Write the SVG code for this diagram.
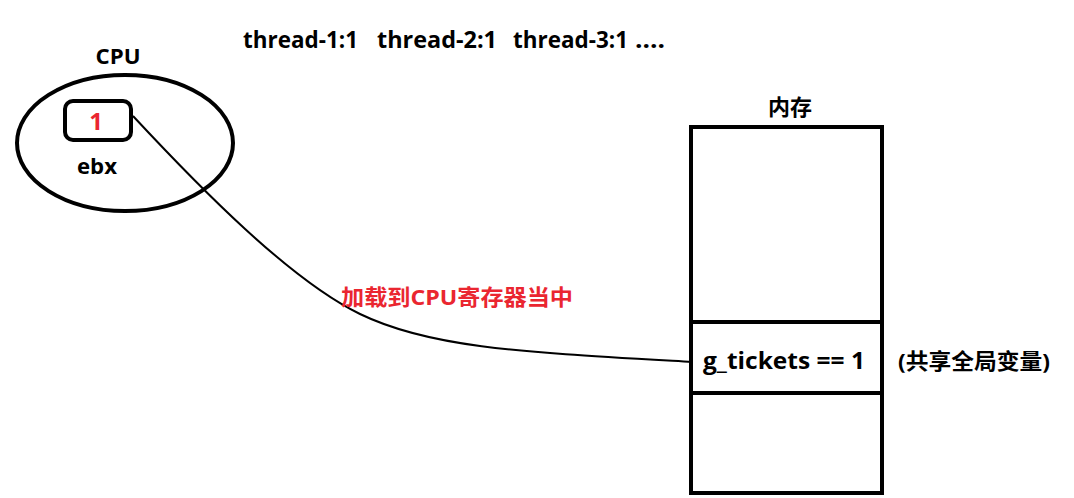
<svg xmlns="http://www.w3.org/2000/svg" width="1074" height="498" viewBox="0 0 1074 498">
<style>
text{font-family:"Open Sans","Noto Sans CJK SC",sans-serif;font-weight:bold;fill:#000;}
.red{fill:#ea2630;}
.shape{fill:none;stroke:#000;stroke-width:4;}
.conn{fill:none;stroke:#000;stroke-width:2;}
</style>
<rect width="1074" height="498" fill="#fff"/>
<g id="threads">
<text x="243" y="48" font-size="23" textLength="115" lengthAdjust="spacingAndGlyphs">thread-1:1</text>
<text x="377" y="48" font-size="23" textLength="120" lengthAdjust="spacingAndGlyphs">thread-2:1</text>
<text x="513" y="48" font-size="23" textLength="115" lengthAdjust="spacingAndGlyphs">thread-3:1</text>
<text x="635" y="48" font-size="23" textLength="30" lengthAdjust="spacingAndGlyphs">....</text>
</g>
<g id="cpu">
<text x="118" y="64" font-size="22" text-anchor="middle" textLength="45" lengthAdjust="spacingAndGlyphs">CPU</text>
<ellipse class="shape" cx="125" cy="143" rx="108" ry="68" stroke-width="4.5"/>
</g>
<g id="ebx">
<rect class="shape" x="65" y="101" width="66" height="39" rx="8"/>
<text class="red" x="96" y="130" font-size="24" text-anchor="middle">1</text>
<text x="97" y="174" font-size="22" text-anchor="middle" textLength="40" lengthAdjust="spacingAndGlyphs">ebx</text>
</g>
<g id="memory">
<text x="790" y="115" font-size="22" text-anchor="middle">内存</text>
<rect class="shape" x="691" y="127" width="191" height="366" stroke-width="4.5"/>
<line class="shape" x1="691" y1="322" x2="882" y2="322"/>
<line class="shape" x1="691" y1="393" x2="882" y2="393"/>
<text x="703" y="369" font-size="23" textLength="162" lengthAdjust="spacingAndGlyphs">g_tickets == 1</text>
</g>
<g id="note">
<text x="898" y="369" font-size="22" textLength="152" lengthAdjust="spacingAndGlyphs">(共享全局变量)</text>
</g>
<g id="connectors">
<path class="conn" d="M133,116 C200,188 290,280 360,314 S520,352 692,362"/>
<text class="red" x="341" y="305" font-size="22" textLength="232" lengthAdjust="spacingAndGlyphs">加载到CPU寄存器当中</text>
</g>
</svg>
